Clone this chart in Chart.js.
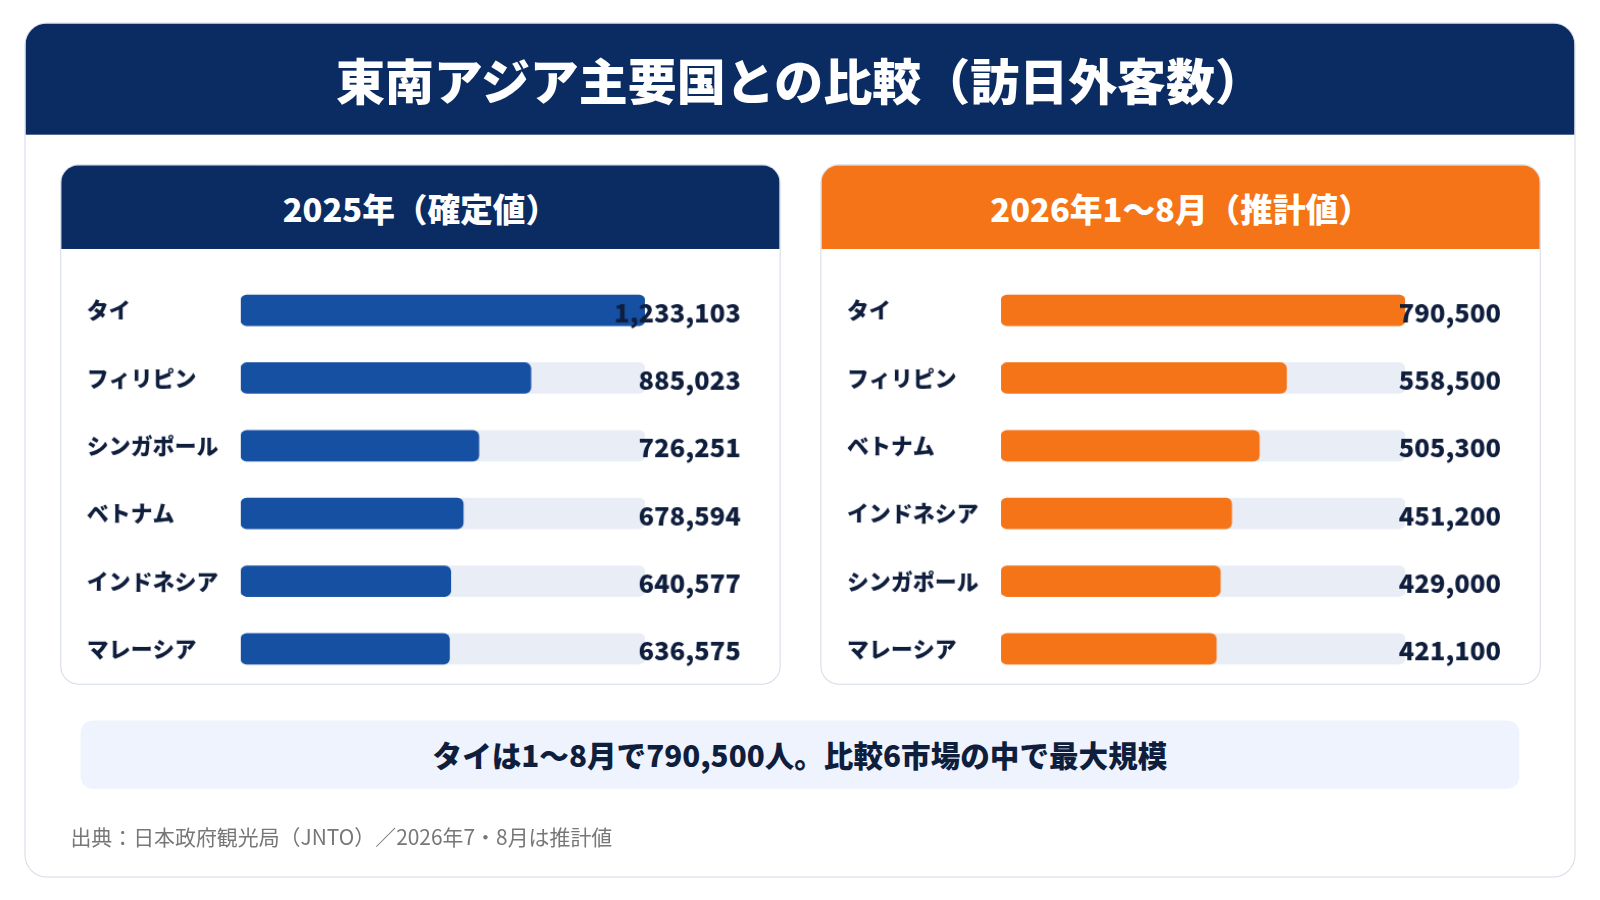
<!DOCTYPE html>
<html><head><meta charset="utf-8">
<script src="https://cdn.jsdelivr.net/npm/chart.js@4"></script>
<style>
body{margin:0;width:1600px;height:900px;background:#fff;font-family:"Noto Sans CJK JP","Noto Sans",sans-serif;overflow:hidden}
#wrap{position:absolute;left:0;top:0;width:1568px;height:882px;transform:scale(1.0204);transform-origin:0 0}
.card{position:absolute;left:24px;top:22px;width:1518px;height:836px;border:1.5px solid #d5dbe5;border-radius:22px;overflow:hidden}
.head{position:absolute;left:0;top:0;width:100%;height:109px;background:#0b2b63;color:#fff;font-weight:900;font-size:48px;text-align:center;line-height:109px}
.panel{position:absolute;top:161px;width:704px;height:508px;border:1.5px solid #d5dbe5;border-radius:18px;overflow:hidden}
.ph{height:82px;color:#fff;font-weight:900;font-size:32px;text-align:center;line-height:84px}
.cv{position:absolute;top:258px;width:705px;height:424px}
.note{position:absolute;left:79px;top:706px;width:1410px;height:67px;background:#eef3fd;border-radius:12px;text-align:center;line-height:67px;font-weight:900;font-size:29px;color:#0f1e3d}
.src{position:absolute;left:69px;top:804px;font-size:20.5px;color:#777}
</style></head><body>
<div id="wrap">
<div class="card"><div class="head">東南アジア主要国との比較（訪日外客数）</div></div>
<div class="panel" style="left:59px"><div class="ph" style="background:#0b2b63">2025年（確定値）</div></div>
<div class="panel" style="left:804px"><div class="ph" style="background:#f57417">2026年1〜8月（推計値）</div></div>
<div class="cv" style="left:59px"><canvas id="c1"></canvas></div>
<div class="cv" style="left:804px"><canvas id="c2"></canvas></div>
<div class="note">タイは1〜8月で790,500人。比較6市場の中で最大規模</div>
<div class="src">出典：日本政府観光局（JNTO）／2026年7・8月は推計値</div>
</div>
<script>
var countries2025 = ["タイ", "フィリピン", "シンガポール", "ベトナム", "インドネシア", "マレーシア"];
var values2025 = [1233103, 885023, 726251, 678594, 640577, 636575];
var countries2026 = ["タイ", "フィリピン", "ベトナム", "インドネシア", "シンガポール", "マレーシア"];
var values2026 = [790500, 558500, 505300, 451200, 429000, 421100];

function makeChart(id, labels, values, color) {
	var max = Math.max.apply(null, values);
	var valueLabels = {
		id: 'valueLabels',
		afterDatasetsDraw: function (chart) {
			var ctx = chart.ctx, meta = chart.getDatasetMeta(0);
			ctx.save();
			ctx.font = '900 25px "Noto Sans CJK JP"';
			ctx.fillStyle = '#0f1e3d';
			ctx.textAlign = 'right';
			ctx.textBaseline = 'middle';
			meta.data.forEach(function (bar, i) {
				ctx.fillText(values[i].toLocaleString('en-US'), 667, bar.y + 2);
			});
			ctx.restore();
		}
	};
	return new Chart(document.getElementById(id), {
		type: 'bar',
		data: {
			labels: labels,
			datasets: [
				{ data: values, backgroundColor: color, barThickness: 30, borderRadius: 6, borderSkipped: false, grouped: false },
				{ data: values.map(function () { return max; }), backgroundColor: '#e9edf5', barThickness: 30, borderRadius: 6, borderSkipped: false, grouped: false }
			]
		},
		options: {
			indexAxis: 'y',
			responsive: true,
			maintainAspectRatio: false,
			animation: false,
			layout: { padding: { left: 26, right: 132, top: 0, bottom: 0 } },
			plugins: { legend: { display: false }, tooltip: { enabled: false } },
			scales: {
				x: { display: false, min: 0, max: max },
				y: {
					grid: { display: false }, border: { display: false },
					afterFit: function (s) { s.width = 151; },
					ticks: { crossAlign: 'far', padding: 0, color: '#0f1e3d', font: { family: 'Noto Sans CJK JP', size: 21.5, weight: '900' } }
				}
			}
		},
		plugins: [valueLabels]
	});
}
makeChart('c1', countries2025, values2025, '#1650a3');
makeChart('c2', countries2026, values2026, '#f57417');
</script>
</body></html>
